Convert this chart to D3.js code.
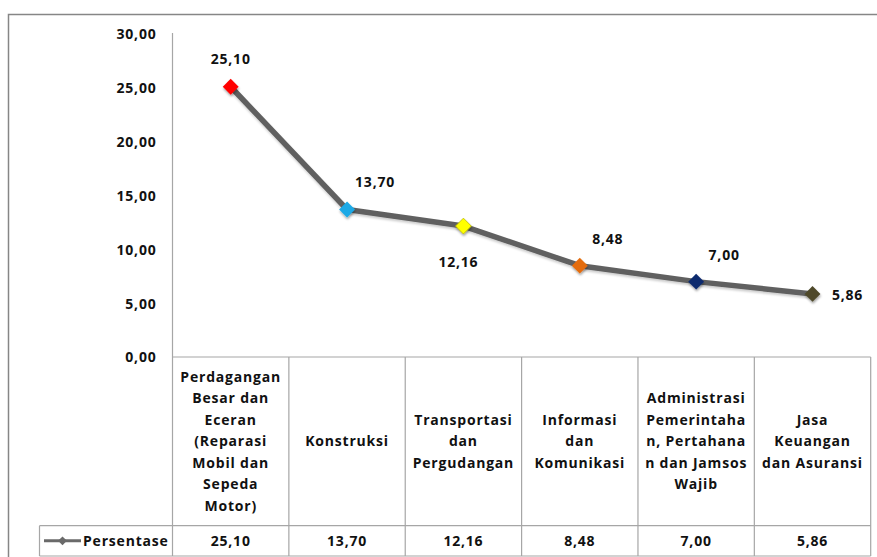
<!DOCTYPE html>
<html>
<head>
<meta charset="utf-8">
<script src="https://cdn.jsdelivr.net/npm/d3@7"></script>
<style>
  html, body { margin: 0; padding: 0; background: #fff; }
  svg { display: block; }
  text { font-family: "Open Sans", "Noto Sans", sans-serif; font-weight: 700; fill: #111; letter-spacing: 0.8px; }
</style>
</head>
<body>
<svg id="chart" width="877" height="557"></svg>
<script>
// Sectors (multi-line labels as shown in the data table)
const categories = [
  ["Perdagangan", "Besar dan", "Eceran", "(Reparasi", "Mobil dan", "Sepeda", "Motor)"],
  ["Konstruksi"],
  ["Transportasi", "dan", "Pergudangan"],
  ["Informasi", "dan", "Komunikasi"],
  ["Administrasi", "Pemerintaha", "n, Pertahana", "n dan Jamsos", "Wajib"],
  ["Jasa", "Keuangan", "dan Asuransi"]
];
const seriesName = "Persentase";
const values = [25.10, 13.70, 12.16, 8.48, 7.00, 5.86];
const markerColors = ["#ff0000", "#1ba9e6", "#ffff00", "#e46c0a", "#0b2a6e", "#4f4a2c"];
const yTicks = [0, 5, 10, 15, 20, 25, 30];
// where each data label sits relative to its marker
const labelPlacement = ["above", "aboveRight", "belowLeft", "aboveRight", "aboveRight", "right"];

const fmt = v => d3.format(".2f")(v).replace(".", ",");

const svg = d3.select("#chart");

const plotLeft = 172.5, plotRight = 870.7;
const yTop = 34, yZero = 357;
const tableBottom = 556, valueRowTop = 525.7, legendLeft = 39.5;

const x = d3.scaleBand().domain(d3.range(categories.length)).range([plotLeft, plotRight]).padding(0);
const cx = i => x(i) + x.bandwidth() / 2;
const y = d3.scaleLinear().domain([0, 30]).range([yZero, yTop]);

// drop shadow for markers and line
const defs = svg.append("defs");
const sh = defs.append("filter").attr("id", "shadow").attr("x", "-50%").attr("y", "-50%").attr("width", "200%").attr("height", "200%");
sh.append("feDropShadow").attr("dx", 0.5).attr("dy", 2).attr("stdDeviation", 1.3).attr("flood-color", "#000").attr("flood-opacity", 0.35);
const lsh = defs.append("filter").attr("id", "lshadow").attr("x", "-10%").attr("y", "-10%").attr("width", "120%").attr("height", "120%");
lsh.append("feDropShadow").attr("dx", 0.5).attr("dy", 2).attr("stdDeviation", 1.2).attr("flood-color", "#000").attr("flood-opacity", 0.2);

// outer frame
svg.append("rect").attr("x", 8.5).attr("y", 14.5).attr("width", 900).attr("height", 600)
  .attr("fill", "none").attr("stroke", "#868686").attr("stroke-width", 1.5);

// y axis
const yAxis = d3.axisLeft(y).tickValues(yTicks).tickFormat(fmt).tickSize(0).tickPadding(16);
const ya = svg.append("g").attr("transform", `translate(${plotLeft},0)`).call(yAxis);
ya.select(".domain").remove();
ya.selectAll("text").attr("font-size", 14).attr("font-family", null).attr("dy", "0.35em");

// table grid lines
const gridColor = "#a6a6a6";
const grid = svg.append("g").attr("stroke", gridColor).attr("stroke-width", 1.2).attr("fill", "none");
grid.append("line").attr("x1", plotLeft).attr("x2", plotLeft).attr("y1", yTop - 1).attr("y2", tableBottom);
grid.append("line").attr("x1", plotLeft).attr("x2", plotRight).attr("y1", yZero).attr("y2", yZero);
grid.append("line").attr("x1", legendLeft).attr("x2", plotRight).attr("y1", valueRowTop).attr("y2", valueRowTop);
grid.append("line").attr("x1", legendLeft).attr("x2", plotRight).attr("y1", tableBottom).attr("y2", tableBottom);
grid.append("line").attr("x1", legendLeft).attr("x2", legendLeft).attr("y1", valueRowTop).attr("y2", tableBottom);
categories.forEach((c, i) => {
  const xr = x(i) + x.bandwidth();
  grid.append("line").attr("x1", xr).attr("x2", xr).attr("y1", yZero).attr("y2", tableBottom);
});

// category labels
const lineH = 21.5;
const catMid = (yZero + valueRowTop) / 2;
categories.forEach((lines, i) => {
  const t = svg.append("text").attr("text-anchor", "middle").attr("font-size", 14);
  const y0 = catMid - (lines.length - 1) * lineH / 2;
  lines.forEach((ln, k) => {
    t.append("tspan").attr("x", cx(i)).attr("y", y0 + k * lineH).attr("dy", "0.35em").text(ln);
  });
});

// value row
const rowMid = (valueRowTop + tableBottom) / 2;
svg.selectAll("text.val").data(values).join("text").attr("class", "val")
  .attr("x", (d, i) => cx(i)).attr("y", rowMid).attr("dy", "0.35em")
  .attr("text-anchor", "middle").attr("font-size", 14).text(fmt);

// legend key in the value row
svg.append("line").attr("x1", 44).attr("x2", 81).attr("y1", rowMid).attr("y2", rowMid)
  .attr("stroke", "#6a6a6a").attr("stroke-width", 3);
svg.append("path").attr("d", d3.symbol(d3.symbolDiamond2, 50)()).attr("transform", `translate(62.5,${rowMid})`)
  .attr("fill", "#6a6a6a");
svg.append("text").attr("x", 83).attr("y", rowMid).attr("dy", "0.35em").attr("font-size", 14).text(seriesName);

// series line
const line = d3.line().x((d, i) => cx(i)).y(d => y(d));
svg.append("path").datum(values).attr("d", line).attr("fill", "none")
  .attr("stroke", "#616161").attr("stroke-width", 5.5).attr("stroke-linejoin", "round")
  .attr("filter", "url(#lshadow)");

// markers
svg.selectAll("path.mk").data(values).join("path").attr("class", "mk")
  .attr("d", d3.symbol(d3.symbolDiamond2, 160)())
  .attr("transform", (d, i) => `translate(${cx(i)},${y(d)})`)
  .attr("fill", (d, i) => markerColors[i])
  .attr("stroke", (d, i) => i === 2 ? "#b8b800" : "none").attr("stroke-width", 0.8)
  .attr("filter", "url(#shadow)");

// data labels
const offsets = {
  above: [0, -28],
  aboveRight: [28, -27],
  belowLeft: [-5, 36],
  right: [35, 1]
};
svg.selectAll("text.lbl").data(values).join("text").attr("class", "lbl")
  .attr("x", (d, i) => cx(i) + offsets[labelPlacement[i]][0])
  .attr("y", (d, i) => y(d) + offsets[labelPlacement[i]][1])
  .attr("dy", "0.35em").attr("text-anchor", "middle").attr("font-size", 14).text(fmt);
</script>
</body>
</html>
